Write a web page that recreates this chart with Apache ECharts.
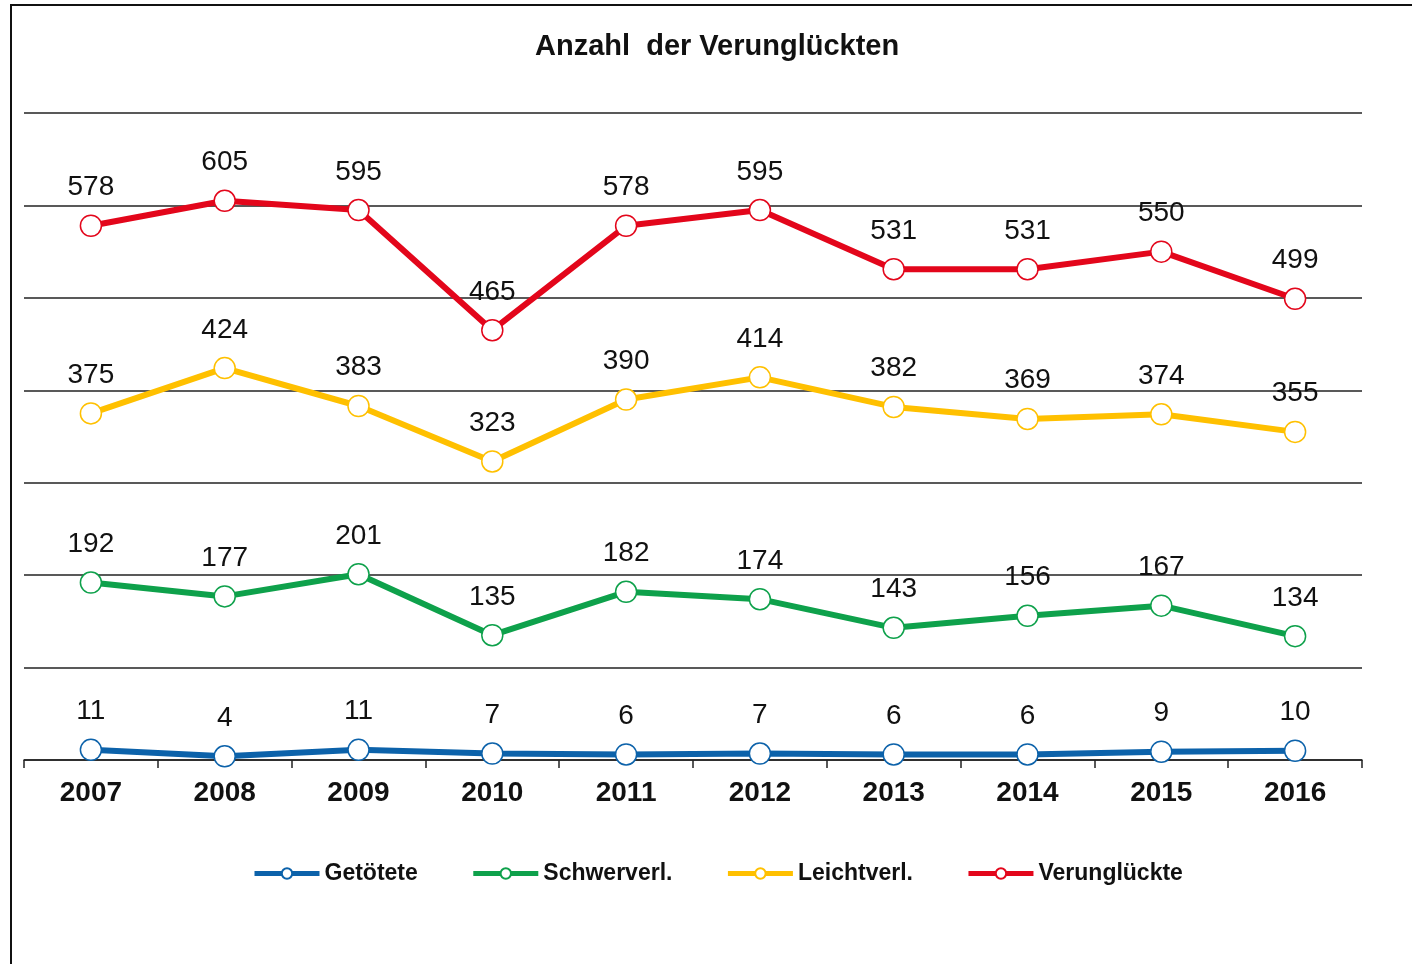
<!DOCTYPE html>
<html>
<head>
<meta charset="utf-8">
<script src="https://cdn.jsdelivr.net/npm/echarts@6/dist/echarts.min.js"></script>
<style>
html,body{margin:0;padding:0;background:#fff;}
#chart{width:1412px;height:964px;}
</style>
</head>
<body>
<div id="chart"></div>
<script>
const years = ['2007','2008','2009','2010','2011','2012','2013','2014','2015','2016'];
const getoetete = [11,4,11,7,6,7,6,6,9,10];
const schwerverl = [192,177,201,135,182,174,143,156,167,134];
const leichtverl = [375,424,383,323,390,414,382,369,374,355];
const verunglueckte = [578,605,595,465,578,595,531,531,550,499];
const yTicks = [0,100,200,300,400,500,600,700];

const FONT = '"Liberation Sans", Arial, sans-serif';
function mkSeries(name, data, color) {
  return {
    name: name,
    type: 'line',
    data: data,
    symbol: 'circle',
    symbolSize: 21,
    showAllSymbol: true,
    lineStyle: {color: color, width: 6},
    itemStyle: {color: '#fff', borderColor: color, borderWidth: 1.5},
    label: {
      show: true, position: 'top', distance: 13,
      fontFamily: FONT, fontSize: 28, color: '#111'
    },
    emphasis: {disabled: true},
    animation: false
  };
}
const chart = echarts.init(document.getElementById('chart'));
chart.setOption({
  backgroundColor: '#fff',
  animation: false,
  title: {
    text: 'Anzahl  der Verunglückten',
    left: 535, top: 32, padding: 0,
    textStyle: {fontFamily: FONT, fontSize: 29, fontWeight: 'bold', color: '#111'}
  },
  legend: {
    data: ['Getötete','Schwerverl.','Leichtverl.','Verunglückte'],
    left: 252, top: 862, padding: 0,
    itemWidth: 65, itemHeight: 13, itemGap: 53,
    lineStyle: {width: 5},
    textStyle: {fontFamily: FONT, fontSize: 23, fontWeight: 'bold', color: '#111'}
  },
  grid: {left: 24, right: 50, top: 113, bottom: 204, containLabel: false},
  xAxis: {
    type: 'category', data: years, boundaryGap: true,
    axisLine: {show: true, lineStyle: {color: '#222', width: 1.5}},
    axisTick: {show: true, length: 8, alignWithLabel: false, lineStyle: {color: '#222', width: 1.5}},
    axisLabel: {margin: 19, fontFamily: FONT, fontSize: 28, fontWeight: 'bold', color: '#111'},
    splitLine: {show: false}
  },
  yAxis: {
    type: 'value', min: yTicks[0], max: yTicks[yTicks.length-1], interval: 100,
    axisLine: {show: false}, axisTick: {show: false}, axisLabel: {show: false},
    splitLine: {show: true, lineStyle: {color: '#222', width: 1.5}}
  },
  graphic: [{
    type: 'rect', silent: true,
    shape: {x: 11, y: 5, width: 1440, height: 1000},
    style: {fill: 'none', stroke: '#111', lineWidth: 2}
  }],
  series: [
    mkSeries('Getötete', getoetete, '#0C62AA'),
    mkSeries('Schwerverl.', schwerverl, '#0EA14B'),
    mkSeries('Leichtverl.', leichtverl, '#FFC000'),
    mkSeries('Verunglückte', verunglueckte, '#E3061B')
  ]
});
</script>
</body>
</html>
